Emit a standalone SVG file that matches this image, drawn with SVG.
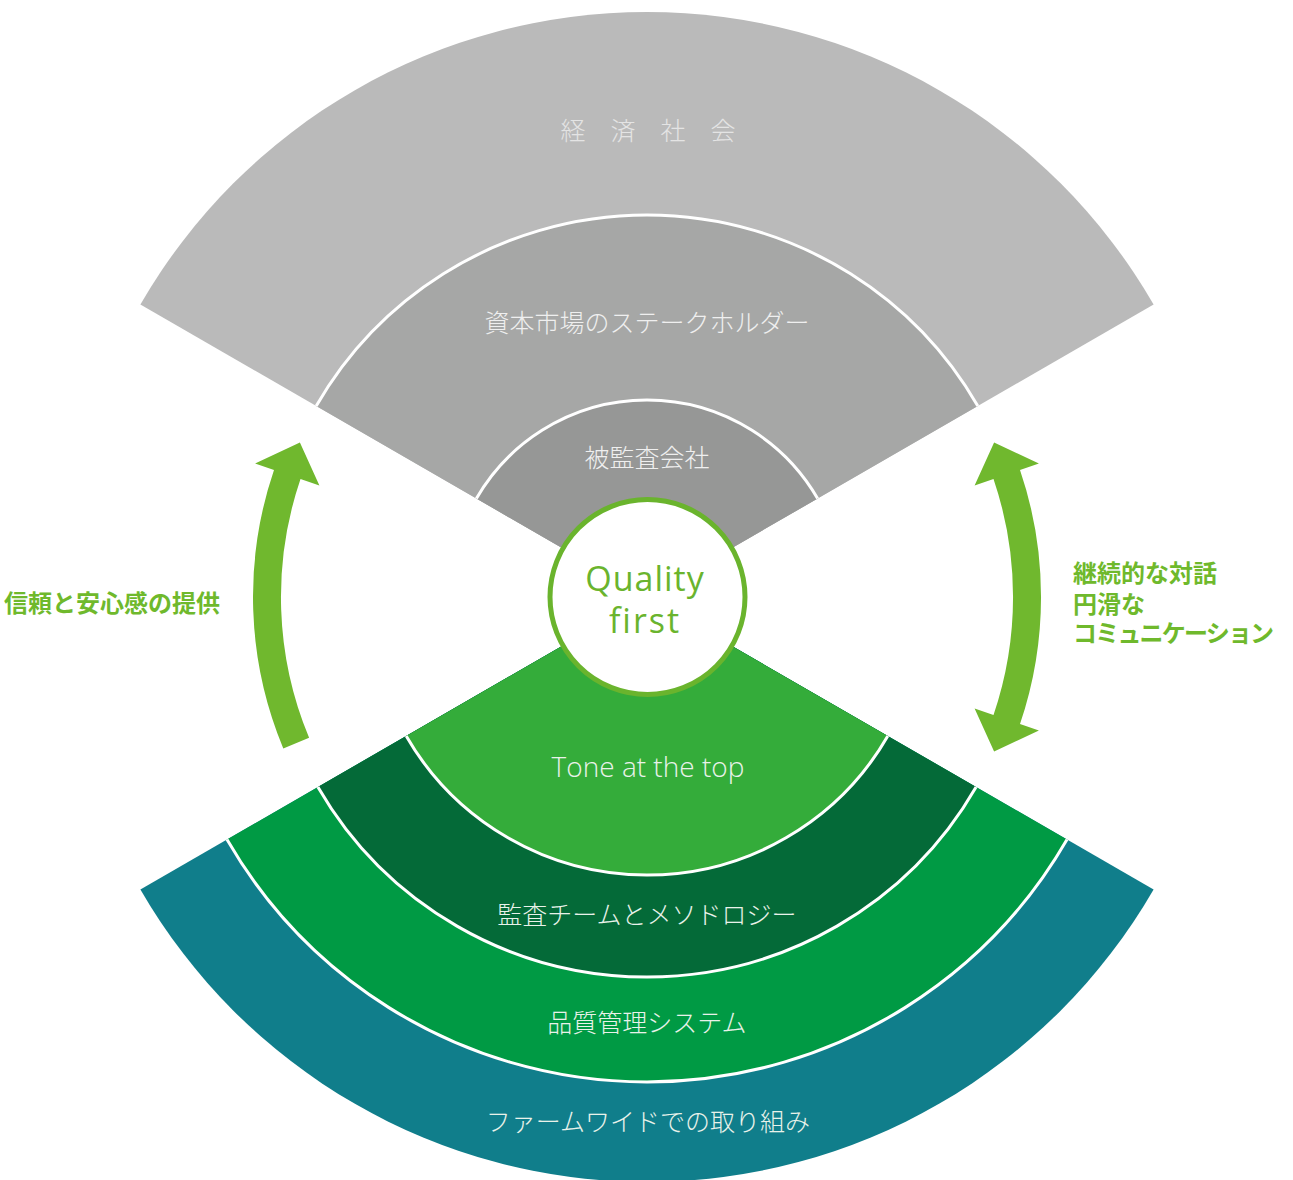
<svg xmlns="http://www.w3.org/2000/svg" width="1293" height="1180" viewBox="0 0 1293 1180">
<style>
.sep{fill:none;stroke:#ffffff;stroke-width:3}
.jp{font-family:"Noto Sans CJK JP","Noto Sans",sans-serif;font-size:25px;font-weight:300;text-anchor:middle}
.lt{fill:#efefef}
.gt{fill:#e9f2ea}
.side{font-family:"Noto Sans CJK JP","Noto Sans",sans-serif;font-size:24px;font-weight:700;fill:#6fb92c}
.arrow{fill:#70b82e}
</style>
<rect width="1293" height="1180" fill="#ffffff"/>
<g id="economy">
<path d="M647 597 L140.4 304.5 A585 585 0 0 1 1153.6 304.5 Z" fill="#bababa"/>
<text class="jp" x="648" y="140" fill="#e4e4e4">経　済　社　会</text>
</g>
<g id="stakeholders">
<path d="M647 597 L316.2 406 A382 382 0 0 1 977.8 406 Z" fill="#a6a7a6"/>
<text class="jp lt" x="647" y="332">資本市場のステークホルダー</text>
</g>
<g id="audited">
<path d="M647 597 L476.4 498.5 A197 197 0 0 1 817.6 498.5 Z" fill="#969796"/>
<text class="jp lt" x="647" y="467">被監査会社</text>
</g>
<g id="firmwide">
<path d="M647 597 L1153.6 889.5 A585 585 0 0 1 140.4 889.5 Z" fill="#107e8b"/>
<text class="jp gt" x="648" y="1131">ファームワイドでの取り組み</text>
</g>
<g id="qms">
<path d="M647 597 L1067 839.5 A485 485 0 0 1 227 839.5 Z" fill="#009a44"/>
<text class="jp gt" x="647" y="1032">品質管理システム</text>
</g>
<g id="team">
<path d="M647 597 L976.1 787 A380 380 0 0 1 317.9 787 Z" fill="#046a38"/>
<text class="jp gt" x="647" y="924">監査チームとメソドロジー</text>
</g>
<g id="tone">
<path d="M647 597 L887.8 736 A278 278 0 0 1 406.2 736 Z" fill="#34ac3a"/>
<text x="648" y="777" text-anchor="middle" font-family="'Open Sans','Noto Sans',sans-serif" font-size="28" font-weight="300" fill="#e9f2ea">Tone at the top</text>
</g>
<g id="separators">
<path class="sep" d="M316.2 406 A382 382 0 0 1 977.8 406"/>
<path class="sep" d="M476.4 498.5 A197 197 0 0 1 817.6 498.5"/>
<path class="sep" d="M887.8 736 A278 278 0 0 1 406.2 736"/>
<path class="sep" d="M976.1 787 A380 380 0 0 1 317.9 787"/>
<path class="sep" d="M1067 839.5 A485 485 0 0 1 227 839.5"/>
</g>
<g id="quality">
<circle cx="647.5" cy="597" r="97.5" fill="#ffffff" stroke="#6ab42d" stroke-width="5"/>
<text text-anchor="middle" font-family="'Open Sans','Noto Sans',sans-serif" font-size="34" fill="#6ab42d"><tspan x="645" y="591" letter-spacing="1">Quality</tspan><tspan x="645" y="633" letter-spacing="2">first</tspan></text>
</g>
<g id="connectors">
<path class="arrow" d="M283.3 748.4 A394 394 0 0 1 274.0 470.0 L255.1 463.6 L299.9 442.5 L319.4 485.5 L300.5 479.0 A366 366 0 0 0 309.1 737.7 Z"/>
<path class="arrow" d="M994.1 442.5 L1038.9 463.6 L1020.0 470.0 A394 394 0 0 1 1020.0 724.0 L1038.9 730.4 L994.1 751.5 L974.6 708.5 L993.5 715.0 A366 366 0 0 0 993.5 479.0 L974.6 485.5 Z"/>
</g>
<g id="label-left">
<text class="side" x="4" y="612">信頼と安心感の提供</text>
</g>
<g id="label-right">
<text class="side"><tspan x="1073" y="582">継続的な対話</tspan><tspan x="1073" y="613">円滑な</tspan><tspan x="1073" y="642" letter-spacing="-1.8">コミュニケーション</tspan></text>
</g>
</svg>
